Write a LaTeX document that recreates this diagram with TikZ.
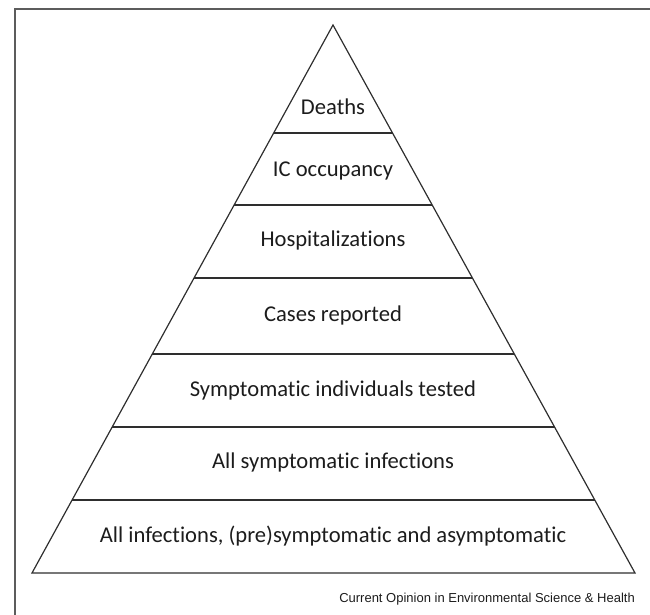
\documentclass[tikz,border=0pt]{standalone}
\usepackage{fontspec}
\setmainfont[Ligatures=NoCommon]{Carlito}
\newfontfamily\creditfont{Liberation Sans}
\usepackage{xcolor}
\usepackage{tikz}
\usetikzlibrary{calc}
\definecolor{edge}{HTML}{2E2E2E}
\definecolor{frame}{HTML}{5C5C5C}
\definecolor{ink}{HTML}{1C1C1C}
\tikzset{
  pyr/.style={draw=edge, line width=1.2pt},
  box/.style={draw=frame, line width=1.6pt},
  lvl/.style={text=ink, anchor=base, inner sep=0pt, font=\fontsize{22.6}{26}\selectfont},
  credit/.style={text=ink, anchor=base east, inner sep=0pt, font=\creditfont\fontsize{13}{15}\selectfont}
}

\begin{document}
\begin{tikzpicture}[x=1pt, y=-1pt]
  \useasboundingbox (0,0) rectangle (650,615);
  % outer frame (cut at right and bottom)
  \draw[box] (15,615) -- (15,9) -- (650,9);

  \coordinate (A) at (333,25);
  \coordinate (L) at (32,573);
  \coordinate (R) at (635,573);
  \draw[pyr] (A) -- (L) -- (R) -- cycle;

  % level lines
  \foreach \t in {0.1971,0.3285,0.4617,0.6004,0.7336,0.8668}
    \draw[pyr] ($(A)!\t!(L)$) -- ($(A)!\t!(R)$);

  \node[lvl] (deaths)  at (333,114)   {Deaths};
  \node[lvl] (icu)     at (333,176.7) {IC occupancy};
  \node[lvl] (hosp)    at (333,246.7) {Hospitalizations};
  \node[lvl] (cases)   at (333,321.7) {Cases reported};
  \node[lvl] (tested)  at (333,396)   {Symptomatic individuals tested};
  \node[lvl] (sympt)   at (333,468)   {All symptomatic infections};
  \node[lvl] (allinf)  at (333,542.7) {All infections, (pre)symptomatic and asymptomatic};

  \node[credit] (src) at (635,602) {Current Opinion in Environmental Science \& Health};
\end{tikzpicture}
\end{document}
